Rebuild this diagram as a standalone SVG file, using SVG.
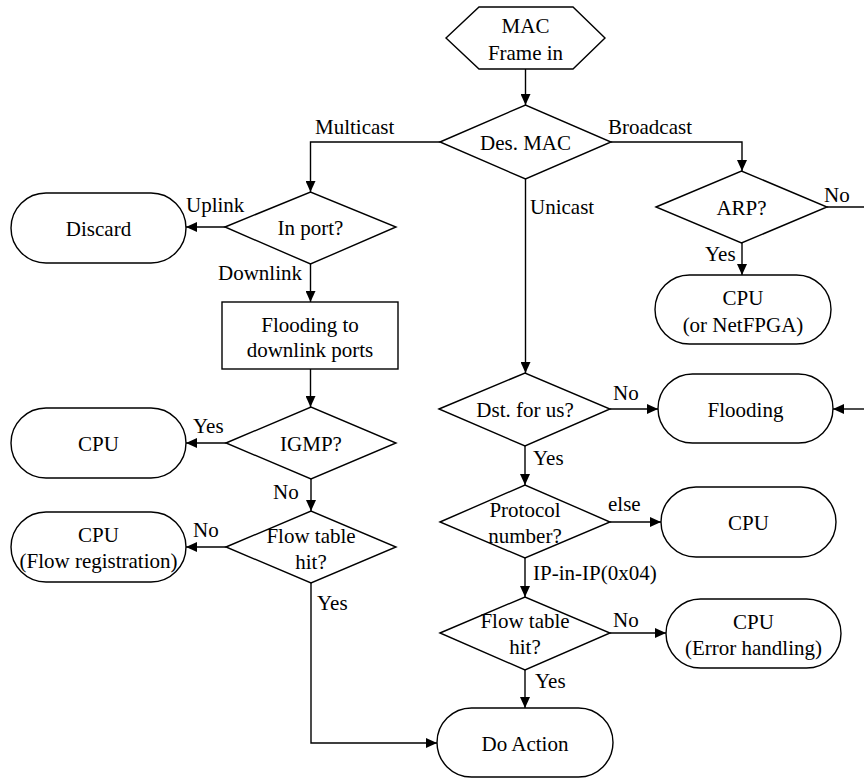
<svg xmlns="http://www.w3.org/2000/svg" width="864" height="779" viewBox="0 0 864 779" font-family="Liberation Serif, DejaVu Serif, serif" font-size="21">
<defs>
<marker id="ah" markerUnits="userSpaceOnUse" markerWidth="12" markerHeight="10" refX="11" refY="5" orient="auto">
<path d="M0,0 L11,5 L0,10 Z" fill="#000"/>
</marker>
<style>
.s{fill:#fff;stroke:#000;stroke-width:1.4}
.c{fill:none;stroke:#000;stroke-width:1.4}
.a{marker-end:url(#ah)}
.m{text-anchor:middle}
</style>
</defs>
<rect width="864" height="779" fill="#fff"/>
<g id="connectors">
<path class="c a" d="M525.5,69 L525.5,105"/>
<path class="c a" d="M611,142 L742,142 L742,171"/>
<path class="c" d="M827,207 L864,207"/>
<path class="c a" d="M742,243 L742,275"/>
<path class="c a" d="M440,142 L310.5,142 L310.5,192"/>
<path class="c a" d="M225,227 L186,227"/>
<path class="c a" d="M310.5,264 L310.5,302"/>
<path class="c a" d="M310.5,369 L310.5,407"/>
<path class="c a" d="M226,443 L186,443"/>
<path class="c a" d="M311,479 L311,511"/>
<path class="c a" d="M226,547 L186,547"/>
<path class="c a" d="M311,583 L311,743 L437,743"/>
<path class="c a" d="M525.5,179 L525.5,373"/>
<path class="c a" d="M610,409 L658,409"/>
<path class="c a" d="M864,409 L833,409"/>
<path class="c a" d="M525,446 L525,485"/>
<path class="c a" d="M610,522 L661,522"/>
<path class="c a" d="M525,558 L525,597"/>
<path class="c a" d="M610,633 L666,633"/>
<path class="c a" d="M525,670 L525,708"/>
<text x="315" y="134">Multicast</text>
<text x="608" y="134">Broadcast</text>
<text x="530" y="214">Unicast</text>
<text x="824" y="202">No</text>
<text x="705" y="261">Yes</text>
<text x="186" y="212">Uplink</text>
<text x="218" y="280">Downlink</text>
<text x="193" y="433">Yes</text>
<text x="273" y="499">No</text>
<text x="193" y="537">No</text>
<text x="317" y="610">Yes</text>
<text x="613" y="400">No</text>
<text x="533" y="465">Yes</text>
<text x="608" y="511">else</text>
<text x="533" y="580">IP-in-IP(0x04)</text>
<text x="613" y="627">No</text>
<text x="535" y="688">Yes</text>
</g>
<g id="start">
<polygon class="s" points="446,38 479,7 573,7 605,38 573,69 479,69"/>
<text class="m" x="525.5" y="33">MAC</text>
<text class="m" x="525.5" y="60">Frame in</text>
</g>
<g id="desmac">
<polygon class="s" points="440,142 525.5,105 611,142 525.5,179"/>
<text class="m" x="525.5" y="150">Des. MAC</text>
</g>
<g id="arp">
<polygon class="s" points="656,207 741.5,171 827,207 741.5,243"/>
<text class="m" x="741.5" y="215">ARP?</text>
</g>
<g id="cpu-netfpga">
<rect class="s" x="655" y="275" width="176" height="69" rx="34.5"/>
<text class="m" x="743" y="305">CPU</text>
<text class="m" x="743" y="332">(or NetFPGA)</text>
</g>
<g id="inport">
<polygon class="s" points="225,227 310.5,192 396,227 310.5,264"/>
<text class="m" x="310.5" y="235">In port?</text>
</g>
<g id="discard">
<rect class="s" x="11" y="193" width="175" height="70" rx="35"/>
<text class="m" x="98.5" y="236">Discard</text>
</g>
<g id="flood-down">
<rect class="s" x="222" y="302" width="176" height="67"/>
<text class="m" x="310" y="332">Flooding to</text>
<text class="m" x="310" y="357">downlink ports</text>
</g>
<g id="igmp">
<polygon class="s" points="226,443 311,407 396,443 311,479"/>
<text class="m" x="311" y="451">IGMP?</text>
</g>
<g id="cpu-igmp">
<rect class="s" x="11" y="408" width="175" height="70" rx="35"/>
<text class="m" x="98.5" y="451">CPU</text>
</g>
<g id="flowhit-left">
<polygon class="s" points="226,547 311,511 396,547 311,583"/>
<text class="m" x="311" y="543">Flow table</text>
<text class="m" x="311" y="569">hit?</text>
</g>
<g id="cpu-flowreg">
<rect class="s" x="11" y="512" width="175" height="70" rx="35"/>
<text class="m" x="98.5" y="542">CPU</text>
<text class="m" x="98.5" y="568">(Flow registration)</text>
</g>
<g id="dst">
<polygon class="s" points="439,409 525,373 610,409 525,446"/>
<text class="m" x="525" y="417">Dst. for us?</text>
</g>
<g id="flooding">
<rect class="s" x="658" y="374" width="175" height="69" rx="34.5"/>
<text class="m" x="745.5" y="417">Flooding</text>
</g>
<g id="protocol">
<polygon class="s" points="440,522 525,485 610,522 525,558"/>
<text class="m" x="525" y="517">Protocol</text>
<text class="m" x="525" y="543">number?</text>
</g>
<g id="cpu-else">
<rect class="s" x="661" y="487" width="175" height="70" rx="35"/>
<text class="m" x="748.5" y="530">CPU</text>
</g>
<g id="flowhit-right">
<polygon class="s" points="440,633 525,597 610,633 525,670"/>
<text class="m" x="525" y="628">Flow table</text>
<text class="m" x="525" y="654">hit?</text>
</g>
<g id="cpu-error">
<rect class="s" x="666" y="599" width="175" height="69" rx="34.5"/>
<text class="m" x="753.5" y="629">CPU</text>
<text class="m" x="753.5" y="655">(Error handling)</text>
</g>
<g id="doaction">
<rect class="s" x="437" y="708" width="176" height="69" rx="34.5"/>
<text class="m" x="525" y="751">Do Action</text>
</g>
</svg>
